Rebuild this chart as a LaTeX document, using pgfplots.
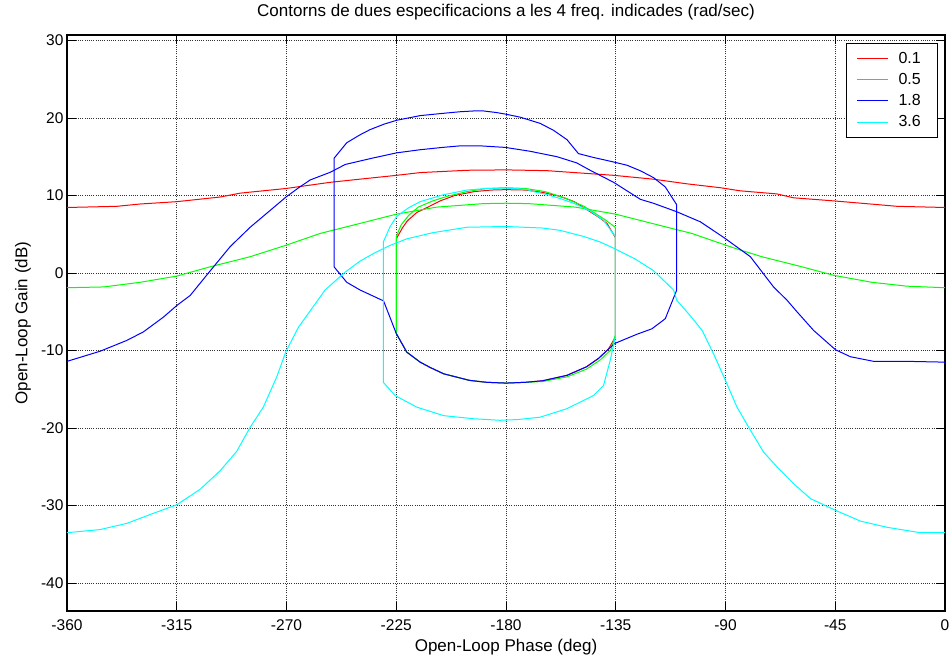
\documentclass[border=0pt]{standalone}
\usepackage{fontspec}
\setmainfont{Liberation Sans}
\usepackage{pgfplots}
\pgfplotsset{compat=1.18}

\definecolor{cRed}{rgb}{1,0,0}
\definecolor{cGreen}{rgb}{0,1,0}
\definecolor{cBlue}{rgb}{0,0,1}
\definecolor{cCyan}{rgb}{0,1,1}

\newcommand{\ticksize}{\fontsize{15.5}{18}\selectfont}
\newcommand{\legsize}{\fontsize{16}{19}\selectfont}
\newcommand{\labelsize}{\fontsize{17}{20}\selectfont}
\newcommand{\legtext}[1]{\makebox[27pt][l]{#1}}

\begin{document}
\begin{tikzpicture}
\begin{axis}[
  at={(0pt,0pt)}, anchor=south west,
  scale only axis,
  width=878pt, height=576pt,
  xmin=-360, xmax=0,
  ymin=-43.6, ymax=30.7,
  xtick={-360,-315,-270,-225,-180,-135,-90,-45,0},
  xticklabels={-360,-315,-270,-225,-180,-135,-90,-45,0},
  ytick={-40,-30,-20,-10,0,10,20,30},
  yticklabels={-40,-30,-20,-10,0,10,20,30},
  tick align=inside,
  major tick length=9pt,
  tick style={black, line width=0.8pt},
  axis line style={black, line width=1.1pt},
  grid=major,
  major grid style={black!80, line width=0.7pt, dash pattern=on 1pt off 1.2pt},
  ticklabel style={font=\ticksize},
  xticklabel style={yshift=-5pt},
  title={Contorns de dues especificacions a les 4 freq. indicades (rad/sec)},
  title style={font=\labelsize, at={([yshift=12pt]axis description cs:0.5,1)}, anchor=base},
  xlabel={Open-Loop Phase (deg)},
  xlabel style={font=\labelsize, at={([yshift=-40.7pt]axis description cs:0.5,0)}, anchor=base},
  ylabel={Open-Loop Gain (dB)},
  ylabel style={font=\labelsize, at={([xshift=-39.5pt]axis description cs:0,0.5)}, anchor=base, rotate=0},
  every axis plot/.append style={line width=1pt, line join=round, no markers},
  legend style={at={(1,1)}, anchor=north east, xshift=-7pt, yshift=-8pt,
    draw=black, line width=1pt, fill=white, font=\legsize,
    inner xsep=10pt, inner ysep=7pt, row sep=4.4pt, column sep=8pt,
    nodes={inner sep=2pt}},
  legend cell align=left,
  legend image code/.code={\draw[#1, line width=1pt] (0pt,0pt) -- (31pt,0pt);},
]

% 0.1 rad/sec: outer bound
\addplot[cRed] coordinates {
(-360,8.45) (-339.6,8.6) (-330,8.9) (-315,9.2) (-297.2,9.8) (-289,10.3)
(-270.2,10.9) (-252,11.7) (-240,12.1) (-224.8,12.6) (-215.2,12.95)
(-196,13.25) (-180,13.3) (-163.2,13.2) (-149.5,12.9) (-135.9,12.6)
(-119.5,12.1) (-105.8,11.5) (-92.1,11.0) (-84,10.6) (-68.9,10.2)
(-62.1,9.7) (-45.6,9.3) (-30.6,8.9) (-19.6,8.6) (0,8.45)
};
\addlegendentry{\legtext{0.1}}
% 0.1 rad/sec: closed bound
\addplot[cRed, forget plot] coordinates {
(-225,-7.8) (-225,4.4) (-222.5,5.8) (-220.5,6.7) (-216.6,7.8) (-212,8.5)
(-207,9.3) (-201,10.0) (-193,10.5) (-186,10.7) (-180,10.75) (-172,10.7)
(-165,10.4) (-158,9.9) (-152,9.2) (-147,8.2) (-142,7.2) (-138.6,6.4)
(-135.2,4.6) (-135.2,-8.3) (-138,-9.8) (-142,-11.0) (-147,-12.1)
(-155,-13.2) (-165,-13.9) (-172,-14.1) (-180,-14.2) (-188,-14.1)
(-195,-13.85) (-205.6,-13.0) (-211,-12.2) (-215.2,-11.5) (-220.7,-10.2)
(-225,-7.8)
};

% 0.5 rad/sec: outer bound
\addplot[cGreen] coordinates {
(-360,-1.9) (-345,-1.8) (-330,-1.2) (-315,-0.4) (-301.3,0.8) (-284.9,2.1)
(-270,3.6) (-256.2,5.1) (-239.8,6.4) (-224.8,7.6) (-208.4,8.5)
(-189.2,8.95) (-180,9.0) (-170.8,8.95) (-151.6,8.5) (-135.2,7.6)
(-120.2,6.4) (-103.8,5.1) (-90,3.6) (-85.3,3.1) (-75.1,2.1) (-58.7,0.8)
(-45.6,-0.3) (-30,-1.2) (-15.6,-1.7) (0,-1.9)
};
\addlegendentry{\legtext{0.5}}
% 0.5 rad/sec: closed bound
\addplot[cGreen, forget plot] coordinates {
(-225,-7.8) (-225,4.7) (-223,6.2) (-220,7.4) (-216,8.5) (-210,9.3)
(-204,9.9) (-196,10.5) (-188,10.9) (-180,11.0) (-172,10.9) (-164,10.5)
(-156,9.7) (-148,8.6) (-143,7.6) (-139.5,6.9) (-135.2,5.9) (-135.2,-8.0)
(-137,-9.9) (-141.3,-11.2) (-147,-12.4) (-155,-13.4) (-165,-14.0)
(-172,-14.1) (-180,-14.2) (-188,-14.1) (-195,-13.85) (-205.6,-13.0)
(-211,-12.2) (-215.2,-11.5) (-220.7,-10.2) (-225,-7.8)
};

% 1.8 rad/sec: open bound
\addplot[cBlue] coordinates {
(-360,-11.4) (-346.5,-10.1) (-335.5,-8.7) (-328.7,-7.6) (-320.5,-5.7)
(-315,-4.2) (-309.5,-2.9) (-302,0.0) (-293.1,3.4) (-284.9,5.9)
(-278.1,7.7) (-270.2,9.8) (-265,11.0) (-260.3,12.0) (-252,13.0)
(-245.9,14.0) (-235,14.8) (-224.8,15.5) (-215.2,15.9) (-206,16.2)
(-198.8,16.4) (-190.6,16.4) (-180.3,16.2) (-170.1,15.7) (-159.1,15.0)
(-151,14.2) (-145.5,13.25) (-135.9,11.7) (-124.9,9.5) (-119.6,9.0)
(-110,7.9) (-100.3,6.6) (-90.8,4.6) (-79.8,2.1) (-70.3,-1.8)
(-64.8,-3.5) (-60.7,-5.0) (-53.9,-7.4) (-44.9,-9.9)
(-38.8,-10.8) (-29.2,-11.4) (-15,-11.4) (0,-11.5)
};
\addlegendentry{\legtext{1.8}}
% 1.8 rad/sec: closed bound
\addplot[cBlue, forget plot] coordinates {
(-250.5,0.8) (-250.5,14.8) (-245.3,16.8) (-240,17.8) (-235.7,18.5)
(-230,19.2) (-224.8,19.7) (-215.2,20.3) (-205.6,20.6) (-198.8,20.8)
(-193.3,20.9) (-189.2,20.9) (-184,20.7) (-180.3,20.5) (-174.2,20.1)
(-166,19.3) (-160.5,18.4) (-155,17.2) (-150.3,15.4) (-144.1,14.9)
(-137,14.4) (-130.4,13.9) (-125,13.2) (-119.5,12.3) (-114.7,11.1)
(-110,8.8) (-110,-2.2) (-114.7,-5.9) (-120.2,-7.2) (-126.3,-7.9)
(-133.2,-8.8) (-135.5,-9.1) (-138.6,-10.0) (-142,-11.0) (-147,-12.1)
(-155,-13.2) (-165,-13.9) (-172,-14.1) (-180,-14.2) (-188,-14.1)
(-195,-13.85) (-205.6,-13.0) (-211,-12.2) (-215.2,-11.5) (-220.7,-10.2)
(-225,-7.8) (-230.2,-3.6) (-239.8,-2.2) (-245.3,-1.2) (-250.5,0.8)
};

% 3.6 rad/sec: open bound
\addplot[cCyan] coordinates {
(-360,-33.5) (-346.5,-33.1) (-335.5,-32.3) (-324.6,-31.0) (-315,-29.9)
(-305.4,-27.9) (-297.2,-25.5) (-290.4,-23.0) (-284.9,-19.9)
(-279.5,-17.3) (-274,-13.4) (-270.2,-10.1) (-265.1,-7.0) (-257.6,-3.7)
(-254.2,-2.2) (-246,0.1) (-240,1.5) (-234.4,2.5) (-228,3.5)
(-220.7,4.4) (-210,5.2) (-196,5.9) (-180,6.0) (-165,5.8) (-157.8,5.5)
(-148,4.7) (-141.4,4.0) (-135.2,3.1) (-127,1.8) (-119.5,0.3)
(-111.3,-2.2) (-110,-3.5) (-104.5,-5.5) (-99.6,-7.4) (-94.8,-10.5)
(-90.1,-13.8) (-85.3,-17.3) (-80.5,-19.9) (-74.4,-23.1) (-68.9,-25.0)
(-62,-27.2) (-55.2,-29.1) (-45,-30.6) (-34.7,-32.0) (-23.8,-32.8)
(-10.1,-33.5) (0,-33.5)
};
\addlegendentry{\legtext{3.6}}
% 3.6 rad/sec: closed bound
\addplot[cCyan, forget plot] coordinates {
(-230.3,4.0) (-227.5,6.0) (-224.8,7.3) (-220,8.4) (-215.2,9.2)
(-205.6,10.1) (-196,10.7) (-188,10.9) (-180,10.95) (-172,10.8)
(-168.7,10.5) (-163,10.1) (-157.8,9.6) (-152.3,9.0) (-145.5,8.0)
(-140,6.8) (-135.2,4.7) (-135.2,-8.3) (-137.3,-11.3) (-140,-14.5)
(-144.1,-15.8) (-155,-17.5) (-166,-18.6) (-175,-18.9) (-182.4,-19.0)
(-193.3,-18.8) (-205.6,-18.4) (-216.6,-17.3) (-225.5,-15.8)
(-230.3,-14.1) (-230.3,4.0)
};
\end{axis}
\pgfresetboundingbox
\path (-67pt,-53pt) rectangle (885pt,611pt);
\end{tikzpicture}
\end{document}
